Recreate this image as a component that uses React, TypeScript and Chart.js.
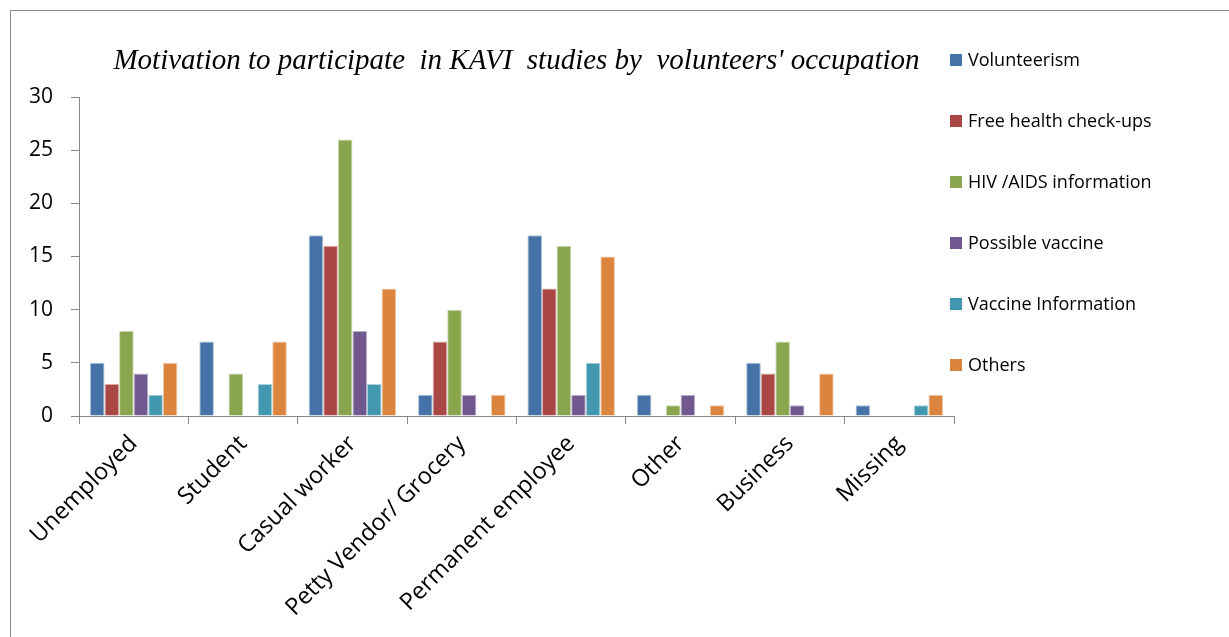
import React, { useEffect, useRef } from "react";
import { Chart, registerables } from "chart.js";

Chart.register(...registerables);

const categories = [
  "Unemployed",
  "Student",
  "Casual worker",
  "Petty Vendor/ Grocery",
  "Permanent employee",
  "Other",
  "Business",
  "Missing",
];

const volunteerism = [5, 7, 17, 2, 17, 2, 5, 1];
const freeHealthCheckups = [3, 0, 16, 7, 12, 0, 4, 0];
const hivAidsInformation = [8, 4, 26, 10, 16, 1, 7, 0];
const possibleVaccine = [4, 0, 8, 2, 2, 2, 1, 0];
const vaccineInformation = [2, 3, 3, 0, 5, 0, 0, 1];
const others = [5, 7, 12, 2, 15, 1, 4, 2];

const seriesNames = [
  "Volunteerism",
  "Free health check-ups",
  "HIV /AIDS information",
  "Possible vaccine",
  "Vaccine Information",
  "Others",
];
const seriesValues = [
  volunteerism,
  freeHealthCheckups,
  hivAidsInformation,
  possibleVaccine,
  vaccineInformation,
  others,
];
const seriesColors = ["#4572A7", "#AA4643", "#89A54E", "#71588F", "#4198AF", "#DB843D"];

const yMin = 0;
const yMax = 30;
const yStep = 5;

const chartTitle = "Motivation to participate  in KAVI  studies by  volunteers' occupation";

function lighten(hex: string, amt: number): string {
  const n = parseInt(hex.slice(1), 16);
  const r = (n >> 16) & 255;
  const g = (n >> 8) & 255;
  const b = n & 255;
  const f = (c: number) => Math.round(c + (255 - c) * amt);
  return `rgb(${f(r)},${f(g)},${f(b)})`;
}

const FONT = '"Open Sans", "Liberation Sans", sans-serif';
const AXIS_GRAY = "#868686";

const sideLegend = {
  id: "sideLegend",
  afterDraw(chart: any) {
    const { ctx, chartArea } = chart;
    const x0 = chartArea.right - 4;
    const y0 = chartArea.top - 37;
    const gap = 61;
    ctx.save();
    ctx.font = `18px ${FONT}`;
    ctx.textBaseline = "middle";
    ctx.textAlign = "left";
    chart.data.datasets.forEach((ds: any, i: number) => {
      const y = y0 + i * gap;
      ctx.fillStyle = ds.backgroundColor;
      ctx.fillRect(x0, y - 6, 12, 12);
      ctx.fillStyle = "#000";
      ctx.fillText(ds.label, x0 + 18, y + 1);
    });
    ctx.restore();
  },
};

export default function App() {
  const canvasRef = useRef<HTMLCanvasElement | null>(null);

  useEffect(() => {
    if (!canvasRef.current) return;
    const chart = new Chart(canvasRef.current, {
      type: "bar",
      data: {
        labels: categories,
        datasets: seriesNames.map((name, i) => ({
          label: name,
          data: seriesValues[i],
          backgroundColor: seriesColors[i],
          borderColor: lighten(seriesColors[i], 0.55),
          borderWidth: 1,
          barPercentage: 1,
          categoryPercentage: 0.8,
        })),
      },
      options: {
        animation: false,
        responsive: true,
        maintainAspectRatio: false,
        layout: {
          padding: { left: 11, right: 275, top: 44, bottom: 0 },
        },
        plugins: {
          legend: { display: false },
          tooltip: { enabled: false },
          title: {
            display: true,
            text: chartTitle,
            fullSize: false,
            color: "#000",
            font: {
              family: '"Liberation Serif", "Times New Roman", serif',
              size: 29,
              style: "italic",
              weight: "normal",
              lineHeight: 1.2,
            },
            padding: { top: 0, bottom: 18.2 },
          },
        },
        scales: {
          x: {
            afterFit: (s: any) => {
              s.paddingLeft = 0;
              s.paddingRight = 0;
              s.height = 221;
            },
            grid: {
              display: true,
              drawOnChartArea: false,
              drawTicks: true,
              tickLength: 8,
              tickColor: AXIS_GRAY,
              color: AXIS_GRAY,
              offset: true,
            },
            border: { display: true, color: AXIS_GRAY, width: 1 },
            ticks: {
              color: "#000",
              font: { family: FONT, size: 23.5 },
              minRotation: 45,
              maxRotation: 45,
              autoSkip: false,
              padding: 6,
            },
          },
          y: {
            min: yMin,
            max: yMax,
            grid: {
              display: true,
              drawOnChartArea: false,
              drawTicks: true,
              tickLength: 8,
              tickColor: AXIS_GRAY,
              color: AXIS_GRAY,
            },
            border: { display: true, color: AXIS_GRAY, width: 1 },
            ticks: {
              stepSize: yStep,
              color: "#000",
              font: { family: FONT, size: 21 },
              padding: 18,
            },
          },
        },
      },
      plugins: [sideLegend],
    });
    return () => chart.destroy();
  }, []);

  return (
    <div style={{ position: "absolute", left: 0, top: 0, width: 1229, height: 637, background: "#fff" }}>
      <div
        style={{
          position: "absolute",
          left: 10,
          top: 10,
          width: 1219,
          height: 627,
          borderTop: "1px solid #8c8c8c",
          borderLeft: "1px solid #8c8c8c",
          boxSizing: "border-box",
        }}
      />
      <div style={{ position: "absolute", left: 0, top: 0, width: 1229, height: 637 }}>
        <canvas ref={canvasRef} />
      </div>
    </div>
  );
}
